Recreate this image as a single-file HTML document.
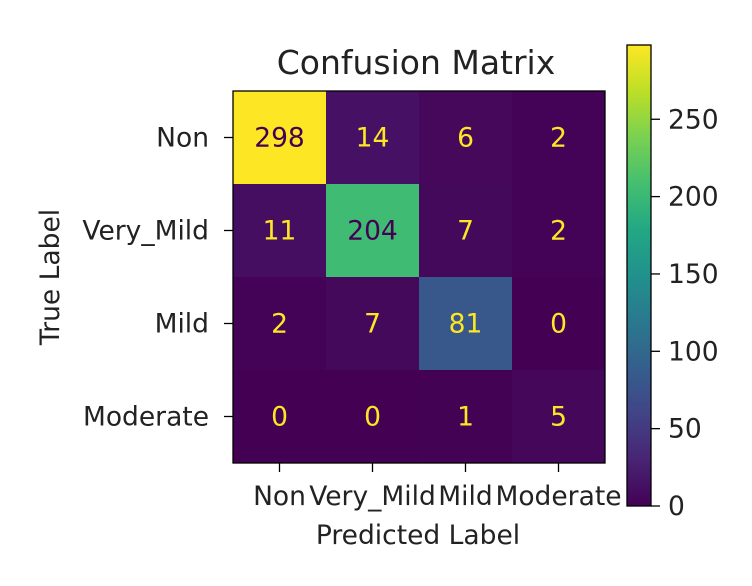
<!DOCTYPE html>
<html><head><meta charset="utf-8"><style>
html,body{margin:0;padding:0;background:#fff;}
svg{display:block;font-family:"DejaVu Sans","Liberation Sans",sans-serif;}
</style></head><body>
<svg id="chart" width="752" height="586" viewBox="0 0 752 586">
<text x="416" y="74" font-size="33" text-anchor="middle" fill="#222">Confusion Matrix</text>
<g id="cells"></g>
<g id="axes"></g>
<defs><linearGradient id="vir" x1="0" y1="1" x2="0" y2="0"></linearGradient></defs>
<g id="cbar"></g>
<text x="418" y="544" font-size="26.5" text-anchor="middle" fill="#222">Predicted Label</text>
<text transform="translate(59,277) rotate(-90)" font-size="26.5" text-anchor="middle" fill="#222">True Label</text>
</svg>
<script>
const labels = ["Non","Very_Mild","Mild","Moderate"];
const row0 = [298,14,6,2];
const row1 = [11,204,7,2];
const row2 = [2,7,81,0];
const row3 = [0,0,1,5];
const cbarTicks = [0,50,100,150,200,250];
const matrix = [row0,row1,row2,row3];
const NS="http://www.w3.org/2000/svg";
const L=233,T=91,S=372,n=labels.length,cs=S/n;
const vmin=0,vmax=298;
const FS=26.5;
const stops=["#440154","#482475","#414487","#355f8d","#2a788e","#21918c","#22a884","#44bf70","#7ad151","#bddf26","#fde725"];
function hex(h){return [1,3,5].map(i=>parseInt(h.substr(i,2),16));}
function viridis(t){t=Math.max(0,Math.min(1,t));const p=t*10,i=Math.min(9,Math.floor(p)),f=p-i;const a=hex(stops[i]),b=hex(stops[i+1]);return "rgb("+a.map((v,k)=>Math.round(v+(b[k]-v)*f)).join(",")+")";}
function xs(j){return L+j*cs;}
function ys(i){return T+i*cs;}
function mk(tag,attrs,parent){const e=document.createElementNS(NS,tag);for(const k in attrs)e.setAttribute(k,attrs[k]);parent.appendChild(e);return e;}
const cells=document.getElementById('cells'),axes=document.getElementById('axes'),cb=document.getElementById('cbar');
matrix.forEach((row,i)=>row.forEach((v,j)=>{
 const t=(v-vmin)/(vmax-vmin);
 const r=mk('rect',{x:xs(j),y:ys(i),width:cs+0.5,height:cs+0.5,fill:viridis(t)},cells);
 
 
 const tx=mk('text',{x:xs(j)+cs/2,y:ys(i)+cs/2+9,'font-size':FS,'text-anchor':'middle',fill:t>0.5?'#440154':'#fde725'},cells);
 tx.textContent=v;
 
 
}));
mk('rect',{x:L,y:T,width:S,height:S,fill:'none',stroke:'#000','stroke-width':1.3},axes);
labels.forEach((lab,k)=>{
 const cy=ys(k)+cs/2;
 mk('line',{x1:L-9,x2:L,y1:cy,y2:cy,stroke:'#000','stroke-width':1.3},axes);
 const yt=mk('text',{x:L-24,y:cy+9,'font-size':FS,'text-anchor':'end',fill:'#222'},axes);
 yt.textContent=lab;
 
 
 const cx=xs(k)+cs/2;
 mk('line',{x1:cx,x2:cx,y1:T+S,y2:T+S+9,stroke:'#000','stroke-width':1.3},axes);
 const xt=mk('text',{x:cx,y:T+S+42,'font-size':FS,'text-anchor':'middle',fill:'#222'},axes);
 xt.textContent=lab;
 
 
});
const g=document.getElementById('vir');
stops.forEach((c,k)=>mk('stop',{offset:k/10,'stop-color':c},g));
const CL=627,CW=24,CT=45,CB=506;
const cr=mk('rect',{x:CL,y:CT,width:CW,height:CB-CT,fill:'url(#vir)',stroke:'#000','stroke-width':1.3},cb);


function cy(v){return CB-(v-vmin)/(vmax-vmin)*(CB-CT);}
cbarTicks.forEach(v=>{
 const y=cy(v);
 mk('line',{x1:CL+CW,x2:CL+CW+9,y1:y,y2:y,stroke:'#000','stroke-width':1.3},cb);
 const t=mk('text',{x:CL+CW+17,y:y+9,'font-size':FS,fill:'#222'},cb);
 t.textContent=v;
 
 
});
</script>
</body></html>
